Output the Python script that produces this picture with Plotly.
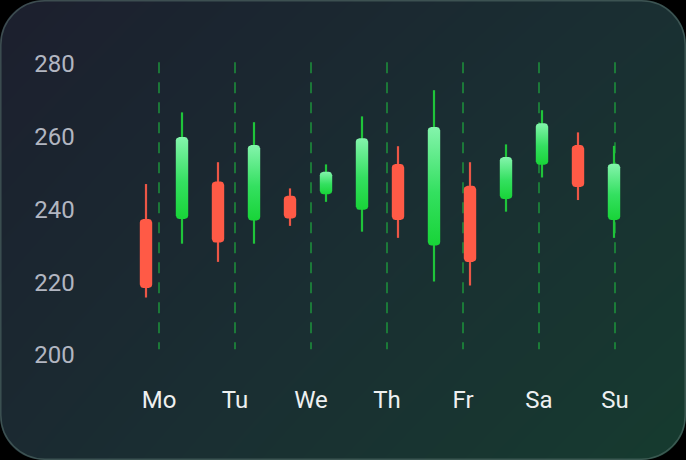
import math
import plotly.graph_objects as go

# ---------------- data ----------------
days = ["Mo", "Tu", "We", "Th", "Fr", "Sa", "Su"]
candle_idx = list(range(14))
opens  = [237.4, 237.4, 247.7, 237.0, 243.8, 244.2, 239.9, 252.5, 230.1, 246.5, 242.9, 252.3, 257.7, 237.1]
closes = [218.4, 259.9, 230.9, 257.7, 237.5, 250.4, 259.6, 237.1, 262.7, 225.6, 254.4, 263.7, 246.2, 252.6]
highs  = [247.0, 266.7, 253.0, 264.0, 245.8, 252.4, 265.6, 257.4, 272.8, 253.0, 257.9, 267.3, 261.2, 257.5]
lows   = [215.8, 230.6, 225.6, 230.6, 235.5, 242.1, 233.9, 232.2, 220.2, 219.1, 239.4, 248.8, 242.6, 232.2]
y_ticks = [200, 220, 240, 260, 280]
grid_top, grid_bottom = 280.5, 201.6

# ---------------- style ----------------
W, H = 686, 460
UP_TOP = "rgb(132,244,172)"
UP_MID = "rgb(52,224,96)"
UP_BOT = "rgb(24,212,56)"
UP_WICK = "#1fc43a"
DN_BODY = "#ff5a46"
DN_WICK = "#ec5646"
FONT = "Roboto"

# pixel mapping of the reference layout
px_per_unit = (355 - 64) / 80.0
y_top_val = 280 + 64 / px_per_unit
y_bot_val = 280 - (H - 64) / px_per_unit
c0, cstep = 146, 36.0
d0, dstep = 159, 76.0
BODY_PX, RAD_PX = 12.4, 3.5
half_w = BODY_PX / 2 / cstep
rx_u = RAD_PX / cstep
ry_u = RAD_PX / px_per_unit


def rounded_body(xc, lo, hi):
    """Rounded rectangle outline (data units) around one candle body."""
    x0, x1 = xc - half_w, xc + half_w
    ry = min(ry_u, (hi - lo) / 2)
    xs, ys = [], []
    centers = [(x1 - rx_u, hi - ry, 0), (x0 + rx_u, hi - ry, 90),
               (x0 + rx_u, lo + ry, 180), (x1 - rx_u, lo + ry, 270)]
    for cx, cy, a0 in centers:
        for s in range(7):
            a = math.radians(a0 + s * 15)
            xs.append(cx + rx_u * math.cos(a))
            ys.append(cy + ry * math.sin(a))
    xs.append(xs[0]); ys.append(ys[0])
    return xs, ys


fig = go.Figure()

# background gradient (full paper) on base axes
fig.add_trace(go.Heatmap(
    x=[0, 1], y=[0, 1], z=[[0.35, 1.0], [0.0, 0.55]],
    colorscale=[[0, "#1c1f2e"], [0.5, "#1a2e32"], [1, "#163b2f"]],
    zsmooth="best", showscale=False, hoverinfo="skip", xaxis="x", yaxis="y",
))

# dashed day lines (day axis x2, drawn beneath candles)
lx, ly = [], []
for d in days:
    lx += [d, d, None]
    ly += [grid_top, grid_bottom, None]
fig.add_trace(go.Scatter(
    x=lx, y=ly, mode="lines", xaxis="x2", yaxis="y2",
    line=dict(color="rgba(30,170,62,0.82)", width=1.5, dash="11px,9px"),
    hoverinfo="skip", showlegend=False,
))

up = [i for i in candle_idx if closes[i] >= opens[i]]
dn = [i for i in candle_idx if closes[i] < opens[i]]

# wicks
for group, col in ((up, UP_WICK), (dn, DN_WICK)):
    wx, wy = [], []
    for i in group:
        wx += [candle_idx[i], candle_idx[i], None]
        wy += [lows[i], highs[i], None]
    fig.add_trace(go.Scatter(
        x=wx, y=wy, mode="lines", line=dict(color=col, width=2.2),
        xaxis="x3", yaxis="y2", hoverinfo="skip", showlegend=False,
    ))

# down bodies (solid)
bx, by = [], []
for i in dn:
    xs, ys = rounded_body(candle_idx[i], closes[i], opens[i])
    bx += xs + [None]
    by += ys + [None]
fig.add_trace(go.Scatter(
    x=bx, y=by, mode="lines", fill="toself", fillcolor=DN_BODY,
    line=dict(width=0, color=DN_BODY), xaxis="x3", yaxis="y2",
    hoverinfo="skip", showlegend=False,
))

# up bodies (vertical gradient, light on top)
for i in up:
    xs, ys = rounded_body(candle_idx[i], opens[i], closes[i])
    fig.add_trace(go.Scatter(
        x=xs, y=ys, mode="lines", fill="toself",
        fillgradient=dict(type="vertical",
                          colorscale=[[0, UP_BOT], [0.45, UP_MID], [1, UP_TOP]],
                          start=opens[i], stop=closes[i]),
        line=dict(width=0, color=UP_BOT), xaxis="x3", yaxis="y2",
        hoverinfo="skip", showlegend=False,
    ))

# ---------------- card corners ----------------
rx, ry = 44 / W, 44 / H
kk = 0.5523
shapes = []
corners = [(0, 1, 1, -1), (1, 1, -1, -1), (0, 0, 1, 1), (1, 0, -1, 1)]
for cx, cy, sx, sy in corners:
    ax, ay = cx + sx * rx, cy
    bx_, by_ = cx, cy + sy * ry
    path = (f"M {cx},{cy} L {ax},{ay} "
            f"C {cx + sx * rx * (1 - kk)},{cy} {cx},{cy + sy * ry * (1 - kk)} {bx_},{by_} Z")
    shapes.append(dict(type="path", xref="paper", yref="paper", path=path,
                       fillcolor="black", line=dict(width=0), layer="above"))

e, f = 0.8 / W, 0.8 / H
bx0, bx1, by0, by1 = e, 1 - e, f, 1 - f
border = (
    f"M {bx0 + rx},{by1} L {bx1 - rx},{by1} "
    f"C {bx1 - rx * (1 - kk)},{by1} {bx1},{by1 - ry * (1 - kk)} {bx1},{by1 - ry} "
    f"L {bx1},{by0 + ry} "
    f"C {bx1},{by0 + ry * (1 - kk)} {bx1 - rx * (1 - kk)},{by0} {bx1 - rx},{by0} "
    f"L {bx0 + rx},{by0} "
    f"C {bx0 + rx * (1 - kk)},{by0} {bx0},{by0 + ry * (1 - kk)} {bx0},{by0 + ry} "
    f"L {bx0},{by1 - ry} "
    f"C {bx0},{by1 - ry * (1 - kk)} {bx0 + rx * (1 - kk)},{by1} {bx0 + rx},{by1} Z"
)
shapes.append(dict(type="path", xref="paper", yref="paper", path=border,
                   line=dict(color="rgba(90,115,110,0.55)", width=1.5), layer="above"))

fig.update_layout(
    width=W, height=H,
    margin=dict(l=0, r=0, t=0, b=0),
    paper_bgcolor="black", plot_bgcolor="rgba(0,0,0,0)",
    showlegend=False,
    font=dict(family=FONT),
    shapes=shapes,
    xaxis=dict(domain=[0, 1], range=[0, 1], visible=False, fixedrange=True),
    yaxis=dict(domain=[0, 1], range=[0, 1], visible=False, fixedrange=True),
    xaxis2=dict(overlaying="x", type="category", categoryarray=days, categoryorder="array",
                range=[-d0 / dstep, (W - d0) / dstep],
                anchor="free", position=0.168, side="bottom",
                showgrid=False, zeroline=False, showline=False, ticks="",
                tickfont=dict(size=24, color="#eef0f0", family=FONT)),
    xaxis3=dict(overlaying="x", range=[-c0 / cstep, (W - c0) / cstep], visible=False),
    yaxis2=dict(overlaying="y", range=[y_bot_val, y_top_val],
                anchor="free", position=0.109, side="left",
                tickvals=y_ticks, showgrid=False, zeroline=False, showline=False, ticks="",
                tickfont=dict(size=24, color="#b2b6c1", family=FONT)),
)

fig.write_html("out.html", config={"displayModeBar": False},
               post_script="document.body.style.margin='0px';document.body.style.overflow='hidden';")
